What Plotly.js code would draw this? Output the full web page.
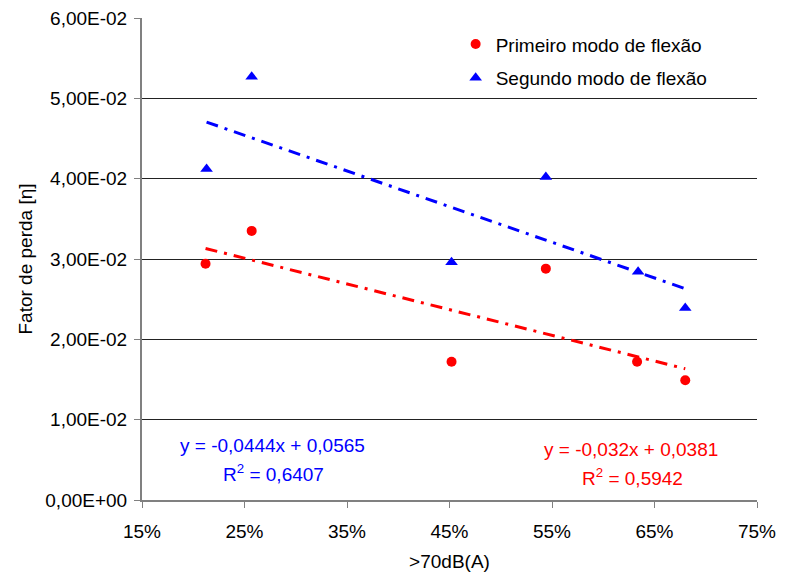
<!DOCTYPE html>
<html><head><meta charset="utf-8">
<script src="https://cdn.plot.ly/plotly-3.0.1.min.js"></script>
<style>html,body{margin:0;padding:0;background:#fff}#chart{width:787px;height:572px}</style>
</head><body><div id="chart"></div>
<script>
const xPrimeiro = [0.212, 0.257, 0.452, 0.544, 0.633, 0.680];
const yPrimeiro = [0.0294, 0.0335, 0.0172, 0.0288, 0.0172, 0.0149];
const xSegundo = [0.213, 0.257, 0.452, 0.544, 0.634, 0.680];
const ySegundo = [0.0412, 0.0527, 0.0296, 0.0402, 0.0284, 0.0239];
const trendPrimeiro = [-0.032, 0.0381];
const trendSegundo = [-0.0444, 0.0565];
const xTickVals = [0.15, 0.25, 0.35, 0.45, 0.55, 0.65, 0.75];
const xTickText = ["15%", "25%", "35%", "45%", "55%", "65%", "75%"];
const yTickVals = [0, 0.01, 0.02, 0.03, 0.04, 0.05, 0.06];
const yTickText = ["0,00E+00", "1,00E-02", "2,00E-02", "3,00E-02", "4,00E-02", "5,00E-02", "6,00E-02"];

function trendLine(xs, c) {
  const x0 = Math.min(...xs), x1 = Math.max(...xs);
  return { x: [x0, x1], y: [c[0] * x0 + c[1], c[0] * x1 + c[1]] };
}
const tP = trendLine(xPrimeiro, trendPrimeiro);
const tS = trendLine(xSegundo, trendSegundo);

const font = "Liberation Sans, Arial, sans-serif";
const data = [
  { x: tP.x, y: tP.y, mode: "lines", line: { color: "#ff0000", width: 3, dash: "12px,7px,3px,7px" }, showlegend: false, hoverinfo: "skip" },
  { x: tS.x, y: tS.y, mode: "lines", line: { color: "#0000ff", width: 3, dash: "12px,7px,3px,7px" }, showlegend: false, hoverinfo: "skip" },
  { x: xPrimeiro, y: yPrimeiro, mode: "markers", name: "Primeiro modo de flexão", legendgroup: "a", marker: { symbol: "circle", color: "#ff0000", size: 10 } },
  { x: xSegundo, y: ySegundo, mode: "markers", name: "Segundo modo de flexão", legendgroup: "b", marker: { symbol: "triangle-up", color: "#0000ff", size: 11 } }
];
const layout = {
  width: 787, height: 572,
  margin: { l: 142, r: 30, t: 18, b: 72 },
  paper_bgcolor: "#fff", plot_bgcolor: "#fff",
  font: { family: font, size: 18, color: "#000" },
  showlegend: true,
  legend: { x: 0.51, y: 0.985, xanchor: "left", yanchor: "top", bgcolor: "rgba(0,0,0,0)", font: { size: 19 }, itemwidth: 30, traceorder: "grouped", tracegroupgap: 6 },
  xaxis: {
    range: [0.15, 0.75], tickvals: xTickVals, ticktext: xTickText,
    showgrid: false, zeroline: false, showline: true, linecolor: "#808080", linewidth: 2,
    ticks: "outside", ticklen: 6, tickcolor: "#808080", tickwidth: 1,
    ticklabelstandoff: 7,
    tickfont: { size: 19 },
    title: { text: ">70dB(A)", font: { size: 19 }, standoff: 15 }
  },
  yaxis: {
    range: [0, 0.06], tickvals: yTickVals, ticktext: yTickText,
    showgrid: true, gridcolor: "#222", gridwidth: 1, zeroline: false,
    showline: true, linecolor: "#808080", linewidth: 2,
    ticks: "outside", ticklen: 6, tickcolor: "#808080", tickwidth: 1,
    ticklabelstandoff: 3,
    tickfont: { size: 19 },
    title: { text: "Fator de perda [η]", font: { size: 19 }, standoff: 8 }
  },
  annotations: [
    { xref: "paper", yref: "paper", x: 0.213, y: 0.114, xanchor: "center", yanchor: "middle", text: "y = -0,0444x + 0,0565", showarrow: false, font: { size: 19, color: "#0000ff" } },
    { xref: "paper", yref: "paper", x: 0.214, y: 0.056, xanchor: "center", yanchor: "middle", text: "R<sup>2</sup> = 0,6407", showarrow: false, font: { size: 19, color: "#0000ff" } },
    { xref: "paper", yref: "paper", x: 0.795, y: 0.104, xanchor: "center", yanchor: "middle", text: "y = -0,032x + 0,0381", showarrow: false, font: { size: 19, color: "#ff0000" } },
    { xref: "paper", yref: "paper", x: 0.798, y: 0.048, xanchor: "center", yanchor: "middle", text: "R<sup>2</sup> = 0,5942", showarrow: false, font: { size: 19, color: "#ff0000" } }
  ]
};
Plotly.newPlot("chart", data, layout, { staticPlot: true, displayModeBar: false });
</script></body></html>
